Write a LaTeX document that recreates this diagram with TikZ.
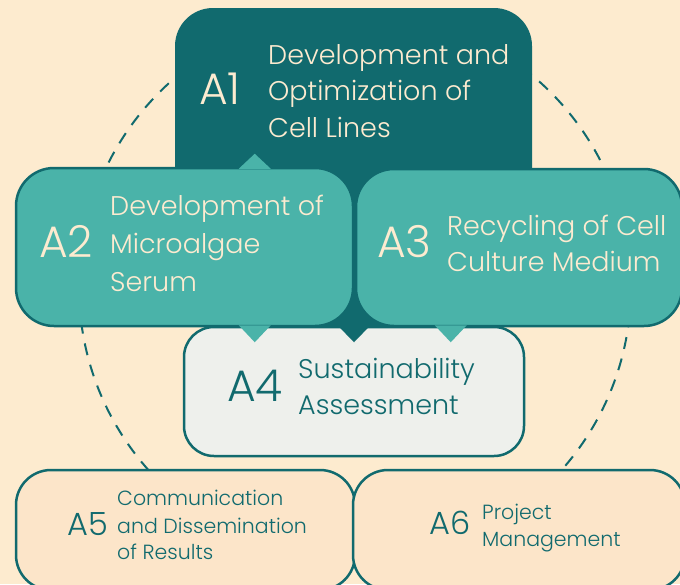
\documentclass[tikz,border=0pt]{standalone}
\usepackage{fontspec}
\setmainfont{Poppins}[UprightFont=* Light]
\usetikzlibrary{calc}
\definecolor{bg}{HTML}{FDEBCF}
\definecolor{dark}{HTML}{116A6E}
\definecolor{mid}{HTML}{4AB3A9}
\definecolor{lightgr}{HTML}{EEF0EC}
\definecolor{peach}{HTML}{FCE5C9}
\definecolor{cream}{HTML}{FDEBD0}
\tikzset{
  actbox/.style={rectangle, rounded corners=38pt, inner sep=0pt, line width=2.5pt, draw=dark},
  bigtxt/.style={anchor=base west, inner sep=0pt, font=\fontsize{44}{44}\selectfont},
  bodytxt/.style={anchor=base west, inner sep=0pt, font=\fontsize{27}{27}\selectfont},
  midtxt/.style={anchor=base west, inner sep=0pt, font=\fontsize{32}{32}\selectfont},
  smalltxt/.style={anchor=base west, inner sep=0pt, font=\fontsize{20.5}{20.5}\selectfont},
}
\begin{document}
\begin{tikzpicture}[x=1pt,y=-1pt]
\useasboundingbox (0,0) rectangle (680,584);
\fill[bg] (0,0) rectangle (680,584);
\draw[dark, line width=2pt, dash pattern=on 12pt off 10pt] (355,287) circle [radius=276pt];
% A4
\node[actbox, fill=lightgr, rounded corners=30pt, minimum width=340pt, minimum height=129pt] (A4) at (354,391.5) {};
% A1
\node[actbox, fill=dark, draw=none, minimum width=357pt, minimum height=318pt] (A1) at (353.5,167) {};
\fill[dark] ($(A1.south)+(-16,-2)$) -- ($(A1.south)+(0.5,15)$) -- ($(A1.south)+(17,-2)$) -- cycle;
% A2
\node[actbox, fill=mid, minimum width=337pt, minimum height=158pt] (A2) at (184.5,247) {};
\fill[mid] ($(A2.north west)+(224,2)$) -- ($(A2.north west)+(240,-13)$) -- ($(A2.north west)+(256,2)$) -- cycle;
\fill[mid] ($(A2.south west)+(224,-2)$) -- ($(A2.south west)+(240,15)$) -- ($(A2.south west)+(256,-2)$) -- cycle;
% A3
\node[actbox, fill=mid, minimum width=326pt, minimum height=157pt] (A3) at (519,247.5) {};
\fill[mid] ($(A3.south west)+(80,-2)$) -- ($(A3.south west)+(96,15)$) -- ($(A3.south west)+(112,-2)$) -- cycle;
% A5, A6
\node[actbox, fill=peach, rounded corners=35pt, minimum width=339pt, minimum height=120pt] (A5) at (185.5,530) {};
\node[actbox, fill=peach, rounded corners=35pt, minimum width=332pt, minimum height=120pt] (A6) at (519,530) {};
% texts
\node[bigtxt, text=cream] (l1) at (199,104) {A1};
\node[bodytxt, text=cream] (t1a) at (268,64) {Development and};
\node[bodytxt, text=cream] (t1b) at (268,100) {Optimization of};
\node[bodytxt, text=cream] (t1c) at (268,137) {Cell Lines};
\node[bigtxt, text=cream] (l2) at (39,257) {A2};
\node[bodytxt, text=cream] (t2a) at (110,215) {Development of};
\node[bodytxt, text=cream] (t2b) at (110,253) {Microalgae};
\node[bodytxt, text=cream] (t2c) at (110,291) {Serum};
\node[bigtxt, text=cream] (l3) at (377,257) {A3};
\node[bodytxt, text=cream] (t3a) at (447,235) {Recycling of Cell};
\node[bodytxt, text=cream] (t3b) at (447,271) {Culture Medium};
\node[bigtxt, text=dark] (l4) at (227,401) {A4};
\node[bodytxt, text=dark] (t4a) at (298,378) {Sustainability};
\node[bodytxt, text=dark] (t4b) at (298,414) {Assessment};
\node[midtxt, text=dark] (l5) at (67,535) {A5};
\node[smalltxt, text=dark] (t5a) at (117,505) {Communication};
\node[smalltxt, text=dark] (t5b) at (117,533) {and Dissemination};
\node[smalltxt, text=dark] (t5c) at (117,559) {of Results};
\node[midtxt, text=dark] (l6) at (429,534) {A6};
\node[smalltxt, text=dark] (t6a) at (482,519) {Project};
\node[smalltxt, text=dark] (t6b) at (482,546) {Management};
\end{tikzpicture}
\end{document}
